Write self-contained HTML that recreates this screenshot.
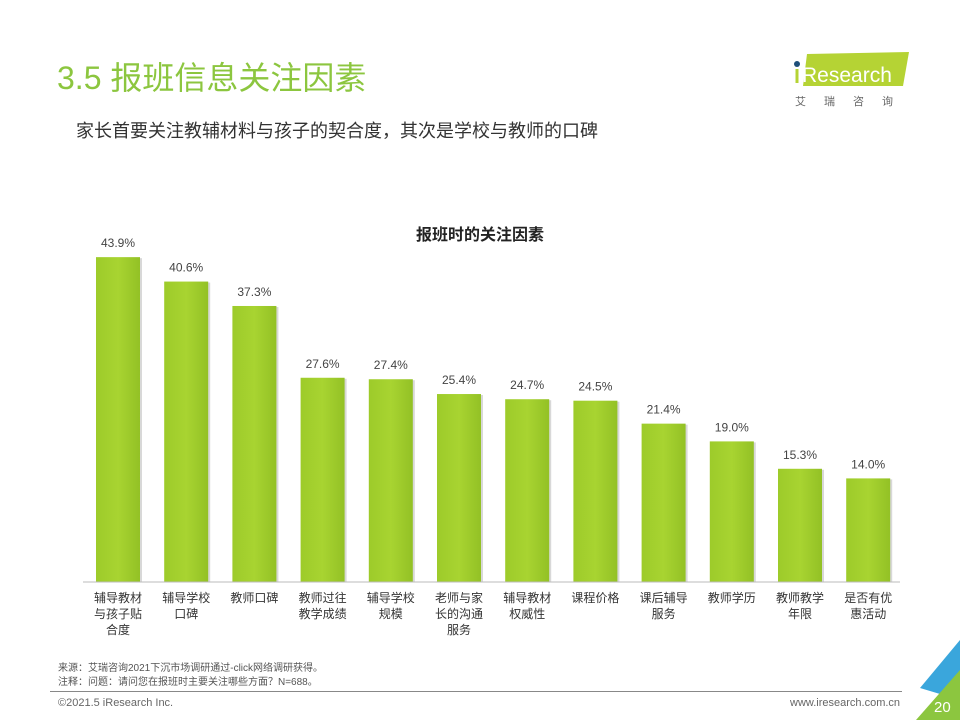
<!DOCTYPE html>
<html><head><meta charset="utf-8"><style>
body{margin:0;width:960px;height:720px;background:#fff;overflow:hidden;font-family:"Liberation Sans","Noto Sans CJK SC",sans-serif;position:relative}
.abs{position:absolute;white-space:nowrap}
</style></head><body>
<div class="abs" style="left:57px;top:53px;font-size:32px;color:#8cc63f">3.5 报班信息关注因素</div>
<div class="abs" style="left:76px;top:117px;font-size:18px;color:#333">家长首要关注教辅材料与孩子的契合度，其次是学校与教师的口碑</div>
<div class="abs" style="left:793px;top:50px;width:120px;height:60px">
<svg width="120" height="60"><polygon points="14,4 116,2 110,36 10,36" fill="#b5d334"/><circle cx="4" cy="14" r="3" fill="#1e4f7a"/><rect x="2.5" y="19" width="3" height="14" fill="#b5d334"/><text x="9" y="32" font-size="21" fill="#fff" font-family="Liberation Sans">Research</text><text x="2" y="55" font-size="11" fill="#666" letter-spacing="18" font-family="Noto Sans CJK SC">艾瑞咨询</text></svg></div>
<div class="abs" style="left:0;width:960px;text-align:center;top:221px;font-size:16px;font-weight:bold;color:#222">报班时的关注因素</div>
<svg id="chart" class="abs" style="left:0;top:0" width="960" height="720"></svg>
<div class="abs" style="left:58px;top:662px;font-size:10px;color:#555;line-height:14px">来源：艾瑞咨询2021下沉市场调研通过-click网络调研获得。<br>注释：问题：请问您在报班时主要关注哪些方面？N=688。</div>
<div class="abs" style="left:50px;top:691px;width:852px;height:1px;background:#888"></div>
<div class="abs" style="left:58px;top:697px;font-size:11px;color:#666">©2021.5 iResearch Inc.</div>
<div class="abs" style="left:790px;top:697px;font-size:11px;color:#666">www.iresearch.com.cn</div>
<svg class="abs" style="left:900px;top:640px" width="60" height="80"><polygon points="60,0 60,60 20,48" fill="#3aa6dc"/><polygon points="60,30 60,80 16,80" fill="#8cc63f"/><text x="34" y="72" font-size="15" fill="#fff" font-family="Liberation Sans">20</text></svg>
<script>
const categories=[["辅导教材","与孩子贴","合度"],["辅导学校","口碑"],["教师口碑"],["教师过往","教学成绩"],["辅导学校","规模"],["老师与家","长的沟通","服务"],["辅导教材","权威性"],["课程价格"],["课后辅导","服务"],["教师学历"],["教师教学","年限"],["是否有优","惠活动"]];
const values=[43.9,40.6,37.3,27.6,27.4,25.4,24.7,24.5,21.4,19.0,15.3,14.0];
const valueLabels=["43.9%","40.6%","37.3%","27.6%","27.4%","25.4%","24.7%","24.5%","21.4%","19.0%","15.3%","14.0%"];
const svg=document.getElementById('chart');const NS='http://www.w3.org/2000/svg';
const base=582,pxPer=7.4,x0=118,step=68.2,bw=44;
const y=v=>base-v*pxPer, x=i=>x0+i*step;
function mk(t,a){const e=document.createElementNS(NS,t);for(const k in a)e.setAttribute(k,a[k]);svg.appendChild(e);return e;}
const defs=mk('defs',{});defs.innerHTML='<linearGradient id="g" x1="0" x2="1"><stop offset="0" stop-color="#9dcb2a"/><stop offset="0.5" stop-color="#a8d431"/><stop offset="1" stop-color="#93c125"/></linearGradient>';
values.forEach((v,i)=>{
 const sh=mk('rect',{x:x(i)-bw/2+2,y:y(v)+1,width:bw,height:base-y(v)-1,fill:'#d8d8d8'});
 
 
 const r=mk('rect',{x:x(i)-bw/2,y:y(v),width:bw,height:base-y(v),fill:'url(#g)'});
 
 
 const t=mk('text',{x:x(i),y:y(v)-10,'text-anchor':'middle','font-size':12,fill:'#444'});t.textContent=valueLabels[i];
 
 
 categories[i].forEach((s,j)=>{const c=mk('text',{x:x(i),y:base+20+j*16,'text-anchor':'middle','font-size':12,fill:'#333'});c.textContent=s;
 
 });
});
const ax=mk('line',{x1:83,x2:900,y1:base,y2:base,stroke:'#bbb','stroke-width':1});


</script>
</body></html>
